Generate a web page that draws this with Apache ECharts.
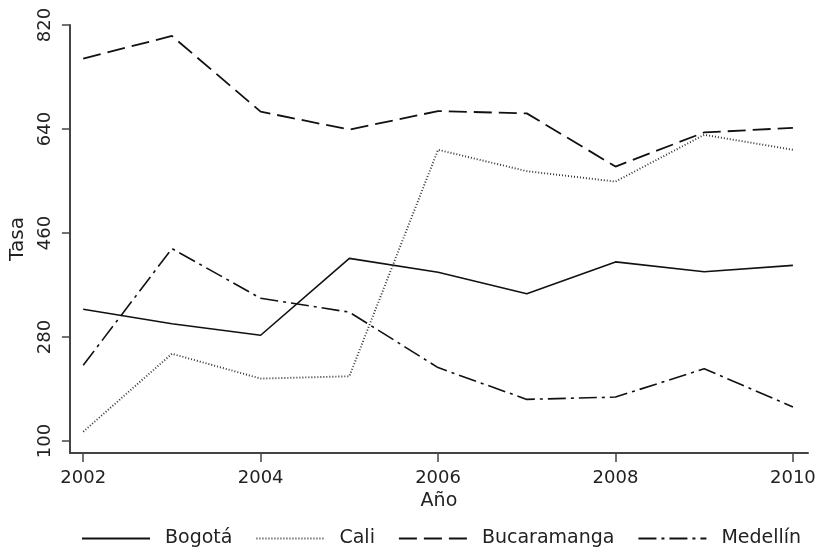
<!DOCTYPE html>
<html>
<head>
<meta charset="utf-8">
<script src="https://cdn.jsdelivr.net/npm/echarts@6/dist/echarts.min.js"></script>
<style>
html,body{margin:0;padding:0;background:#fff;}
#chart{width:819px;height:554px;}
</style>
</head>
<body>
<div id="chart"></div>
<script>
const years = [2002, 2003, 2004, 2005, 2006, 2007, 2008, 2009, 2010];
const bogota = [328, 303, 283, 416, 392, 355, 410, 393, 404];
const cali = [116, 251, 208, 212, 604, 567, 549, 630, 604];
const bucaramanga = [762, 801, 670, 639, 671, 667, 575, 634, 642];
const medellin = [231, 433, 347, 323, 227, 172, 176, 225, 159];
const xTicks = [2002, 2004, 2006, 2008, 2010];
const yTicks = [100, 280, 460, 640, 820];
const seriesNames = ['Bogotá', 'Cali', 'Bucaramanga', 'Medellín'];

const font = 'DejaVu Sans';
const pairs = arr => years.map((y, i) => [y, arr[i]]);
const styles = [
  { type: 'solid', width: 1.6, color: '#111' },
  { type: [1, 2], width: 1.9, color: '#333' },
  { type: [18, 7], width: 1.8, color: '#111' },
  { type: [18, 5, 3, 5], width: 1.6, color: '#111' }
];
const datasets = [bogota, cali, bucaramanga, medellin];

const chart = echarts.init(document.getElementById('chart'), null, { renderer: 'canvas' });
chart.setOption({
  backgroundColor: '#fff',
  animation: false,
  grid: { left: 65, top: 25, right: 11, bottom: 101 },
  xAxis: {
    type: 'value',
    min: 2001.85,
    max: 2010.17,
    name: 'Año',
    nameLocation: 'middle',
    nameGap: 32,
    nameTextStyle: { fontFamily: font, fontSize: 19, color: '#222' },
    axisLine: { onZero: false, lineStyle: { color: '#444', width: 2 } },
    axisTick: { show: true, length: 9, customValues: xTicks, lineStyle: { color: '#444', width: 1.5 } },
    axisLabel: { customValues: xTicks, margin: 16, fontFamily: font, fontSize: 18, color: '#222',
      formatter: v => String(v) },
    splitLine: { show: false }
  },
  yAxis: {
    type: 'value',
    min: 79.2,
    max: 820,
    name: 'Tasa',
    nameLocation: 'middle',
    nameGap: 35,
    nameRotate: 90,
    nameTextStyle: { fontFamily: font, fontSize: 20, color: '#222' },
    axisLine: { show: true, onZero: false, lineStyle: { color: '#444', width: 2 } },
    axisTick: { show: true, length: 8, customValues: yTicks, lineStyle: { color: '#444', width: 1.5 } },
    axisLabel: { customValues: yTicks, rotate: 90, margin: 16, fontFamily: font, fontSize: 18, color: '#222' },
    splitLine: { show: false }
  },
  legend: {
    bottom: 1,
    left: 76,
    itemWidth: 68,
    itemHeight: 12,
    itemGap: 23,
    itemStyle: { opacity: 0 },
    textStyle: { fontFamily: font, fontSize: 19, color: '#222', padding: [0, 0, 0, 10] },
    data: seriesNames
  },
  series: seriesNames.map((name, i) => ({
    name,
    type: 'line',
    data: pairs(datasets[i]),
    symbol: 'none',
    lineStyle: styles[i],
    itemStyle: { color: styles[i].color }
  }))
});
</script>
</body>
</html>
